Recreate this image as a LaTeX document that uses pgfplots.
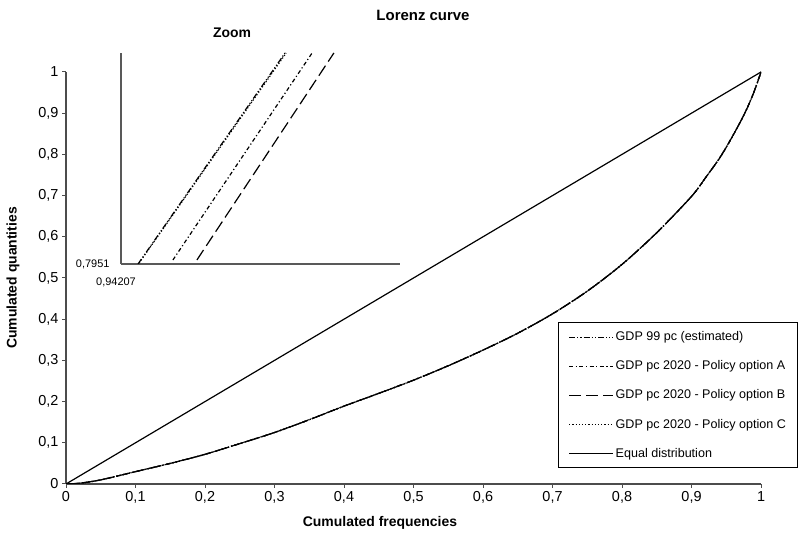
\documentclass[border=0pt]{standalone}
\usepackage{pgfplots}
\usepackage{pgfplotstable}
\pgfplotsset{compat=1.18}
\usepackage{fontspec}
\setmainfont{Liberation Sans}

\pgfplotstableread{
x y
0 0
0.02 0.002
0.05 0.010
0.10 0.030
0.15 0.050
0.20 0.072
0.25 0.098
0.30 0.125
0.35 0.156
0.40 0.189
0.45 0.220
0.50 0.252
0.55 0.287
0.60 0.325
0.65 0.366
0.70 0.413
0.75 0.468
0.80 0.533
0.85 0.610
0.90 0.698
0.92 0.743
0.94 0.790
0.955 0.832
0.97 0.878
0.98 0.912
0.99 0.952
1.00 1.000
}\lorenz

\tikzset{
 est/.style={black, line width=1.2bp, dash pattern=on 6bp off 2bp on 1.2bp off 2bp on 1.2bp off 2bp},
 optA/.style={black, line width=1.2bp, dash pattern=on 4bp off 2.5bp on 1.2bp off 2.5bp},
 optB/.style={black, line width=1.2bp, dash pattern=on 12bp off 5bp},
 optC/.style={black, line width=1.2bp, dash pattern=on 1.2bp off 2bp},
 eqd/.style={black, line width=1.2bp},
}

\begin{document}
\begin{tikzpicture}[x=1bp,y=1bp]
\useasboundingbox (0,0) rectangle (798,541);
\begin{axis}[
  at={(66bp,57bp)}, anchor=south west,
  scale only axis, width=695bp, height=412bp,
  xmin=0, xmax=1, ymin=0, ymax=1,
  axis x line*=bottom, axis y line*=left,
  axis line style={draw=black!70, line width=1.2bp},
  xtick={0,0.1,0.2,0.3,0.4,0.5,0.6,0.7,0.8,0.9,1},
  ytick={0,0.1,0.2,0.3,0.4,0.5,0.6,0.7,0.8,0.9,1},
  tick align=outside, major tick length=4bp,
  tick style={draw=black!70, line width=1bp},
  /pgf/number format/use comma,
  /pgf/number format/assume math mode=true,
  tick label style={font=\fontsize{14.5}{16}\selectfont},
  legend style={at={(0.708,0.393)}, anchor=north west, draw=black, line width=1.3bp,
    fill=white, font=\fontsize{12.6}{14}\selectfont, row sep=14.5bp,
    inner xsep=10bp, inner ysep=7bp, cells={anchor=west}},
  legend image code/.code={\draw[#1, line width=1bp] (0bp,0bp) -- (44bp,0bp);},
  legend cell align=left,
]
\addplot[est, smooth, tension=0.5] table[x=x,y=y] {\lorenz};
\addlegendentry{GDP 99 pc (estimated)}
\addplot[optA, smooth, tension=0.5] table[x=x,y=y] {\lorenz};
\addlegendentry{GDP pc 2020 - Policy option A}
\addplot[optB, smooth, tension=0.5] table[x=x,y=y] {\lorenz};
\addlegendentry{GDP pc 2020 - Policy option B}
\addplot[optC, smooth, tension=0.5] table[x=x,y=y] {\lorenz};
\addlegendentry{GDP pc 2020 - Policy option C}
\addplot[eqd] coordinates {(0,0) (1,1)};
\addlegendentry{Equal distribution}
\end{axis}

\begin{axis}[
  at={(121bp,277bp)}, anchor=south west,
  scale only axis, width=279bp, height=211bp,
  xmin=0.94207, xmax=0.95207, ymin=0.7951, ymax=0.8163,
  axis x line*=bottom, axis y line*=left,
  axis line style={draw=black!65, line width=2.5bp},
  xtick={0.94207}, xticklabels={{0{,}94207}},
  ytick={0.7951}, yticklabels={{0{,}7951}},
  major tick length=0pt,
  xticklabel style={font=\fontsize{11}{13}\selectfont, xshift=-5bp, yshift=-10bp},
  yticklabel style={font=\fontsize{11}{13}\selectfont, xshift=-8bp},
]
\addplot[est] coordinates {(0.94268,0.7951) (0.94795,0.8163)};
\addplot[optA] coordinates {(0.94393,0.7955) (0.94892,0.8163)};
\addplot[optB] coordinates {(0.94479,0.7955) (0.94970,0.8163)};
\addplot[optC] coordinates {(0.94272,0.7952) (0.94799,0.8163)};
\end{axis}

\node[font=\bfseries\fontsize{15}{18}\selectfont] at (423,526) {Lorenz curve};
\node[font=\bfseries\fontsize{14}{16}\selectfont] at (232,508) {Zoom};
\node[font=\bfseries\fontsize{14}{16}\selectfont] at (380,18) {Cumulated frequencies};
\node[font=\bfseries\fontsize{14}{16}\selectfont, rotate=90] at (13,263) {Cumulated quantities};
\end{tikzpicture}
\end{document}
